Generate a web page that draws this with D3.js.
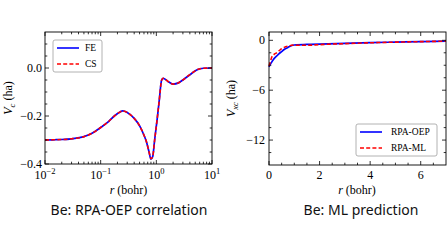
<!DOCTYPE html>
<html>
<head>
<meta charset="utf-8">
<script src="https://cdn.jsdelivr.net/npm/d3@7"></script>
<style>
  body { margin: 0; background: #fff; }
  svg { display: block; }
  .tick-label { font-family: "Liberation Serif", "DejaVu Serif", serif; font-size: 12px; fill: #000; }
  .axis-label { font-family: "Liberation Serif", "DejaVu Serif", serif; font-size: 12px; fill: #000; }
  .legend-text { font-family: "Liberation Serif", "DejaVu Serif", serif; font-size: 9.5px; fill: #000; }
  .caption { font-family: "Noto Sans", "Open Sans", sans-serif; font-size: 14px; fill: #111; }
</style>
</head>
<body>
<svg id="chart" width="448" height="252"></svg>
<script>
// left panel: correlation potential of Be, FE vs CS
const r_corr = [0.01, 0.015, 0.02, 0.03, 0.05, 0.07, 0.1, 0.14, 0.18, 0.22, 0.25, 0.3, 0.4, 0.51, 0.6, 0.67, 0.74, 0.8, 0.86, 0.93, 1.03, 1.12, 1.245, 1.33, 1.6, 2.0, 2.5, 3.0, 4.0, 5.3, 7.0, 10];
const vc_fe = [-0.300, -0.299, -0.298, -0.295, -0.286, -0.272, -0.248, -0.222, -0.198, -0.184, -0.179, -0.185, -0.210, -0.244, -0.280, -0.310, -0.350, -0.380, -0.370, -0.302, -0.217, -0.142, -0.050, -0.043, -0.055, -0.067, -0.062, -0.050, -0.028, -0.008, -0.001, 0.000];
const vc_cs = [-0.300, -0.299, -0.298, -0.295, -0.286, -0.272, -0.248, -0.222, -0.198, -0.184, -0.179, -0.185, -0.210, -0.244, -0.280, -0.310, -0.350, -0.378, -0.369, -0.302, -0.217, -0.142, -0.051, -0.043, -0.055, -0.067, -0.062, -0.050, -0.028, -0.008, -0.001, 0.000];

// right panel: xc potential, OEP vs ML
const r_xc = [0, 0.05, 0.1, 0.2, 0.3, 0.4, 0.5, 0.6, 0.75, 0.9, 1.0, 1.1, 1.5, 2, 3, 4, 5, 6, 7];
const vxc_oep = [-3.2, -2.9, -2.65, -2.2, -1.9, -1.6, -1.35, -1.1, -0.85, -0.62, -0.56, -0.54, -0.5, -0.45, -0.36, -0.28, -0.21, -0.15, -0.1];
const vxc_ml = [-3.1, -2.6, -2.1, -1.7, -1.5, -1.25, -1.0, -0.85, -0.7, -0.6, -0.58, -0.6, -0.6, -0.52, -0.4, -0.3, -0.22, -0.16, -0.1];

const leftYTicks = [0.0, -0.2, -0.4];
const leftXTicks = [0.01, 0.1, 1, 10];
const rightYTicks = [0, -6, -12];
const rightXTicks = [0, 2, 4, 6];

const svg = d3.select("#chart");
const fmtMinus = d => d3.format(".1f")(d).replace("-", "\u2212");

// draws inward ticks on all four sides
function frameTicks(g, x, y, xMajor, xMinor, yMajor, yMinor, w, h) {
  const maj = 4, mnr = 2.3;
  const t = g.append("g").attr("stroke", "#000").attr("stroke-width", 0.8);
  xMajor.forEach(v => {
    t.append("line").attr("x1", x(v)).attr("x2", x(v)).attr("y1", h).attr("y2", h - maj);
    t.append("line").attr("x1", x(v)).attr("x2", x(v)).attr("y1", 0).attr("y2", maj);
  });
  xMinor.forEach(v => {
    t.append("line").attr("x1", x(v)).attr("x2", x(v)).attr("y1", h).attr("y2", h - mnr);
    t.append("line").attr("x1", x(v)).attr("x2", x(v)).attr("y1", 0).attr("y2", mnr);
  });
  yMajor.forEach(v => {
    t.append("line").attr("y1", y(v)).attr("y2", y(v)).attr("x1", 0).attr("x2", maj);
    t.append("line").attr("y1", y(v)).attr("y2", y(v)).attr("x1", w).attr("x2", w - maj);
  });
  yMinor.forEach(v => {
    t.append("line").attr("y1", y(v)).attr("y2", y(v)).attr("x1", 0).attr("x2", mnr);
    t.append("line").attr("y1", y(v)).attr("y2", y(v)).attr("x1", w).attr("x2", w - mnr);
  });
  g.append("rect").attr("width", w).attr("height", h)
    .attr("fill", "none").attr("stroke", "#000").attr("stroke-width", 0.9);
}

function legend(g, x0, y0, w, h, items) {
  g.append("rect").attr("x", x0).attr("y", y0).attr("width", w).attr("height", h)
    .attr("rx", 2).attr("fill", "#fff").attr("fill-opacity", 0.85)
    .attr("stroke", "#a0a0a0").attr("stroke-width", 0.8);
  items.forEach((it, i) => {
    const yy = y0 + 8 + i * 16;
    g.append("line").attr("x1", x0 + 4).attr("x2", x0 + 26).attr("y1", yy).attr("y2", yy)
      .attr("stroke", it.color).attr("stroke-width", 1.6)
      .attr("stroke-dasharray", it.dash || null);
    g.append("text").attr("class", "legend-text").attr("x", x0 + it.tx).attr("y", yy + 3.4).text(it.name);
  });
}

// ---------- left panel ----------
{
  const m = {left: 45, top: 32}, w = 167, h = 132;
  const g = svg.append("g").attr("transform", `translate(${m.left},${m.top})`);
  const x = d3.scaleLog().domain([0.01, 10]).range([0, w]);
  const y = d3.scaleLinear().domain([-0.4, 0.15]).range([h, 0]);

  const xMinor = [];
  [0.01, 0.1, 1].forEach(d => d3.range(2, 10).forEach(k => xMinor.push(d * k)));
  const yMinor = d3.range(-0.35, 0.15, 0.05).filter(v => !leftYTicks.some(t => Math.abs(t - v) < 1e-6));

  const line = (ys) => d3.line().x((d, i) => x(r_corr[i])).y((d, i) => y(ys[i])).curve(d3.curveMonotoneX)(ys);
  g.append("path").attr("d", line(vc_fe)).attr("fill", "none").attr("stroke", "#0000ff").attr("stroke-width", 1.7);
  g.append("path").attr("d", line(vc_cs)).attr("fill", "none").attr("stroke", "#ff0000").attr("stroke-width", 1.6)
    .attr("stroke-dasharray", "4,2.2");

  frameTicks(g, x, y, leftXTicks, xMinor, leftYTicks, yMinor, w, h);

  leftYTicks.forEach(v => {
    g.append("text").attr("class", "tick-label").attr("x", -3).attr("y", y(v) + 4)
      .attr("text-anchor", "end").text(fmtMinus(v));
  });
  leftXTicks.forEach(v => {
    const e = Math.round(Math.log10(v));
    const t = g.append("text").attr("class", "tick-label").attr("x", x(v)).attr("y", h + 15).attr("text-anchor", "middle");
    t.append("tspan").text("10");
    t.append("tspan").attr("dy", -5).attr("font-size", "8.5px").text(String(e).replace("-", "\u2212"));
  });

  g.append("text").attr("class", "axis-label").attr("x", w / 2).attr("y", h + 30).attr("text-anchor", "middle")
    .call(t => { t.append("tspan").attr("font-style", "italic").text("r"); t.append("tspan").text(" (bohr)"); });
  g.append("text").attr("class", "axis-label").attr("transform", `translate(${-33},${h / 2}) rotate(-90)`)
    .attr("text-anchor", "middle")
    .call(t => {
      t.append("tspan").attr("font-style", "italic").text("V");
      t.append("tspan").attr("font-style", "italic").attr("font-size", "8.5px").attr("dy", 2.5).text("c");
      t.append("tspan").attr("dy", -2.5).text(" (ha)");
    });

  legend(g, 8, 8, 49, 32, [
    {name: "FE", color: "#0000ff", tx: 32},
    {name: "CS", color: "#ff0000", dash: "4,2.2", tx: 32}
  ]);

  svg.append("text").attr("class", "caption").attr("x", 129).attr("y", 215).attr("text-anchor", "middle")
    .text("Be: RPA-OEP correlation");
}

// ---------- right panel ----------
{
  const m = {left: 269, top: 32}, w = 177, h = 133;
  const g = svg.append("g").attr("transform", `translate(${m.left},${m.top})`);
  const x = d3.scaleLinear().domain([0, 7]).range([0, w]);
  const y = d3.scaleLinear().domain([-15, 1]).range([h, 0]);

  const xMinor = d3.range(0.5, 7, 0.5).filter(v => v % 2 !== 0);
  const yMinor = d3.range(-13.5, 1, 1.5).filter(v => !rightYTicks.includes(v));

  const line = (ys) => d3.line().x((d, i) => x(r_xc[i])).y((d, i) => y(ys[i])).curve(d3.curveMonotoneX)(ys);
  g.append("path").attr("d", line(vxc_oep)).attr("fill", "none").attr("stroke", "#0000ff").attr("stroke-width", 1.7);
  g.append("path").attr("d", line(vxc_ml)).attr("fill", "none").attr("stroke", "#ff0000").attr("stroke-width", 1.6)
    .attr("stroke-dasharray", "4,2.2");

  frameTicks(g, x, y, rightXTicks, xMinor, rightYTicks, yMinor, w, h);

  rightYTicks.forEach(v => {
    g.append("text").attr("class", "tick-label").attr("x", -4).attr("y", y(v) + 4)
      .attr("text-anchor", "end").text(String(v).replace("-", "\u2212"));
  });
  rightXTicks.forEach(v => {
    g.append("text").attr("class", "tick-label").attr("x", x(v)).attr("y", h + 14)
      .attr("text-anchor", "middle").text(v);
  });

  g.append("text").attr("class", "axis-label").attr("x", 88).attr("y", h + 29).attr("text-anchor", "middle")
    .call(t => { t.append("tspan").attr("font-style", "italic").text("r"); t.append("tspan").text(" (bohr)"); });
  g.append("text").attr("class", "axis-label").attr("transform", `translate(${-34},${h / 2}) rotate(-90)`)
    .attr("text-anchor", "middle")
    .call(t => {
      t.append("tspan").attr("font-style", "italic").text("V");
      t.append("tspan").attr("font-style", "italic").attr("font-size", "8.5px").attr("dy", 2.5).text("xc");
      t.append("tspan").attr("dy", -2.5).text(" (ha)");
    });

  legend(g, 87, 92, 81, 32, [
    {name: "RPA-OEP", color: "#0000ff", tx: 35},
    {name: "RPA-ML", color: "#ff0000", dash: "4,2.2", tx: 35}
  ]);

  svg.append("text").attr("class", "caption").attr("x", 361).attr("y", 215).attr("text-anchor", "middle")
    .text("Be: ML prediction");
}
</script>
</body>
</html>
